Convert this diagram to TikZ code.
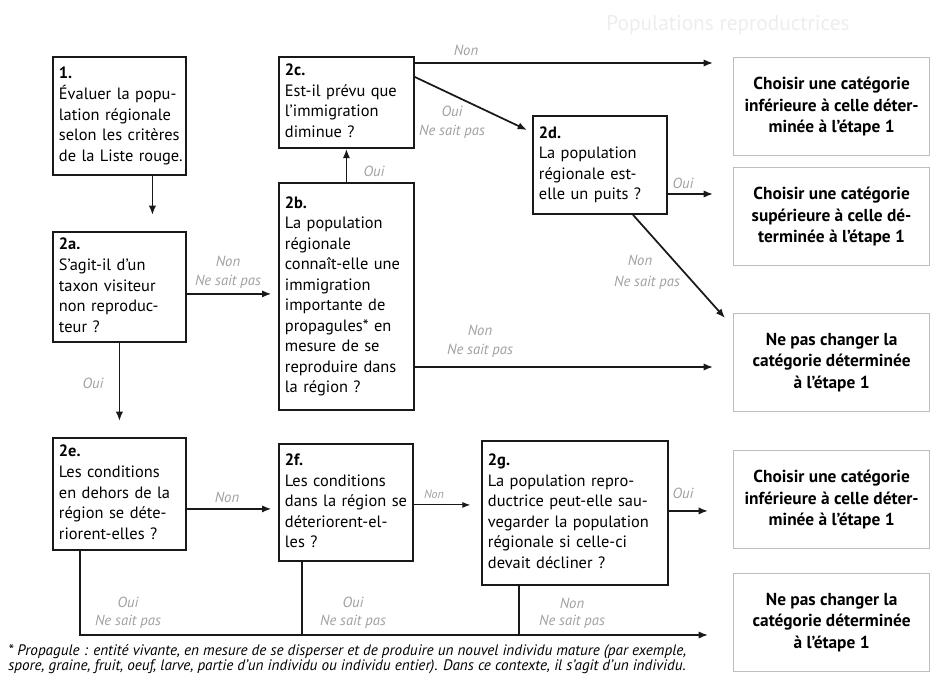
\documentclass[tikz,border=0pt]{standalone}
\usepackage{fontspec}
\setmainfont{PT Sans}
\usetikzlibrary{calc,arrows.meta}
\definecolor{lbl}{HTML}{A0A0A0}
\definecolor{obox}{HTML}{BDBDBD}
\definecolor{ttl}{HTML}{EDEDED}
\newcommand\tl[1]{\begin{tabular}{@{}l@{}}#1\end{tabular}}
\begin{document}
\begin{tikzpicture}[x=0.75pt,y=-0.75pt,
  qbox/.style={draw=black!90, line width=1.4pt, anchor=north west, inner xsep=4.5pt, inner ysep=2pt,
    align=left, font=\fontsize{12.3}{15.4}\selectfont},
  obx/.style={draw=obox, line width=0.9pt, anchor=north west, minimum width=147pt, minimum height=73.5pt,
    align=center, font=\fontsize{13}{16.3}\selectfont\bfseries},
  lab/.style={font=\fontsize{11}{12}\selectfont\itshape, text=lbl, inner sep=0pt},
  arr/.style={line width=1.3pt, draw=black!90, -{Latex[length=7pt,width=5.5pt]}},
  arrthin/.style={line width=0.8pt, draw=black!90, -{Latex[length=6pt,width=4.5pt]}},
  ln/.style={line width=1.3pt, draw=black!90}]
\useasboundingbox (0,0) rectangle (931,684);

% title (faint)
\node[font=\fontsize{16}{18}\selectfont, text=ttl] (title) at (728,25) {Populations reproductrices};

% question boxes
\node[qbox, minimum width=99.75pt, minimum height=88.5pt, text width=90.75pt] (b1) at (52,56)
  {\tl{\textbf{1.}\\Évaluer la popu-\\lation régionale\\selon les critères\\de la Liste rouge.}};
\node[qbox, minimum width=99.75pt, minimum height=82.5pt, text width=90.75pt] (b2a) at (52,231)
  {\tl{\textbf{2a.}\\S’agit-il d’un\\taxon visiteur\\non reproduc-\\teur ?}};
\node[qbox, minimum width=99.75pt, minimum height=84pt, text width=90.75pt] (b2e) at (52,437)
  {\tl{\textbf{2e.}\\Les conditions\\en dehors de la\\région se déte-\\riorent-elles ?}};
\node[qbox, minimum width=101.25pt, minimum height=68.25pt, text width=92.25pt] (b2c) at (278,56)
  {\tl{\textbf{2c.}\\Est-il prévu que\\l’immigration\\diminue ?}};
\node[qbox, minimum width=101.25pt, minimum height=170.25pt, text width=92.25pt] (b2b) at (278,182)
  {\tl{\textbf{2b.}\\La population\\régionale\\connaît-elle une\\immigration\\importante de\\propagules* en\\mesure de se\\reproduire dans\\la région ?}};
\node[qbox, minimum width=100.5pt, minimum height=87.75pt, text width=91.5pt] (b2f) at (278,443)
  {\tl{\textbf{2f.}\\Les conditions\\dans la région se\\déteriorent-el-\\les ?}};
\node[qbox, minimum width=100.5pt, minimum height=73.5pt, text width=91.5pt] (b2d) at (532,115)
  {\tl{\textbf{2d.}\\La population\\régionale est-\\elle un puits ?}};
\node[qbox, minimum width=139.5pt, minimum height=108pt, text width=130.5pt] (b2g) at (481,440)
  {\tl{\textbf{2g.}\\La population repro-\\ductrice peut-elle sau-\\vegarder la population\\régionale si celle-ci\\devait décliner ?}};

% outcome boxes
\node[obx] (o1) at (733,57) {Choisir une catégorie\\inférieure à celle déter-\\minée à l’étape 1};
\node[obx] (o2) at (733,167) {Choisir une catégorie\\supérieure à celle dé-\\terminée à l’étape 1};
\node[obx] (o3) at (733,313) {Ne pas changer la\\catégorie déterminée\\à l’étape 1};
\node[obx] (o4) at (733,450) {Choisir une catégorie\\inférieure à celle déter-\\minée à l’étape 1};
\node[obx] (o5) at (733,573) {Ne pas changer la\\catégorie déterminée\\à l’étape 1};

% helper coordinates
\coordinate (c2a) at ($(b2a.east)+(0,7)$);
\coordinate (c2e) at ($(b2e.east)+(0,15)$);
\coordinate (c2f) at ($(b2f.east)+(0,2.5)$);
\coordinate (c2g) at ($(b2g.east)+(0,-2)$);
\coordinate (c2c) at ($(b2c.north east)+(0,7)$);
\coordinate (c2d) at ($(b2d.north east)+(0,79)$);
\coordinate (c2b) at ($(b2b.north east)+(0,185)$);
\coordinate (e1) at (80,635);
\coordinate (f1) at (302,635);
\coordinate (g1) at (519,635);

% connectors
\draw[arr, shorten >=12pt] ($(b1.south)+(33,0)$) -- ($(b2a.north)+(33,0)$);
\draw[arr, shorten >=5pt] (c2a) -- (c2a -| b2b.west);
\draw[arr, shorten >=12pt] (b2a.south) -- (b2e.north);
\draw[arr, shorten >=5pt] (c2e) -- (c2e -| b2f.west);
\draw[arrthin, shorten >=8pt] (c2f) -- (c2f -| b2g.west);
\draw[arr, shorten >=18.75pt] (c2g) -- (c2g -| o4.west);
\draw[arr] (b2b.north) -- (b2c.south);
\draw[arr, shorten >=15pt] (c2c) -- (c2c -| o1.west);
\draw[arr] ($(b2c.north east)+(0,21)$) -- ($(b2d.north west)+(-5,15)$);
\draw[arr, shorten >=15pt] (c2d) -- (c2d -| o2.west);
\draw[arr] ($(b2d.south west)+(101,0)$) -- ($(o3.north west)+(-8,5)$);
\draw[arr, shorten >=15pt] (c2b) -- (c2b -| o3.west);
\draw[arr, shorten >=18.75pt] (b2e.south -| e1) -- (e1) -- (e1 -| o5.west);
\draw[ln] (b2f.south -| f1) -- (f1);
\draw[ln] (b2g.south -| g1) -- (g1);

% labels
\node[lab] (l1) at (466,50) {Non};
\node[lab] (l2) at (452,111) {Oui};
\node[lab] (l3) at (452,132) {Ne sait pas};
\node[lab] (l4) at (374,171) {Oui};
\node[lab] (l5) at (683,183) {Oui};
\node[lab] (l6) at (640,260) {Non};
\node[lab] (l7) at (647,283) {Ne sait pas};
\node[lab] (l8) at (228,261) {Non};
\node[lab] (l9) at (228,282) {Ne sait pas};
\node[lab] (l10) at (93,383) {Oui};
\node[lab] (l11) at (480,330) {Non};
\node[lab] (l12) at (480,351) {Ne sait pas};
\node[lab] (l13) at (227,497) {Non};
\node[lab, font=\fontsize{9}{10}\selectfont\itshape] (l14) at (434,494) {Non};
\node[lab] (l15) at (683,493) {Oui};
\node[lab] (l16) at (128,602) {Oui};
\node[lab] (l17) at (128,622) {Ne sait pas};
\node[lab] (l18) at (353,602) {Oui};
\node[lab] (l19) at (353,622) {Ne sait pas};
\node[lab] (l20) at (572,603) {Non};
\node[lab] (l21) at (572,622) {Ne sait pas};

% footnote
\node[anchor=north west, inner sep=0pt, align=left, font=\fontsize{11.4}{11.4}\selectfont\itshape] (fn) at (8,644)
  {* Propagule : entité vivante, en mesure de se disperser et de produire un nouvel individu mature (par exemple,\\
   spore, graine, fruit, oeuf, larve, partie d’un individu ou individu entier). Dans ce contexte, il s’agit d’un individu.};
\end{tikzpicture}
\end{document}
